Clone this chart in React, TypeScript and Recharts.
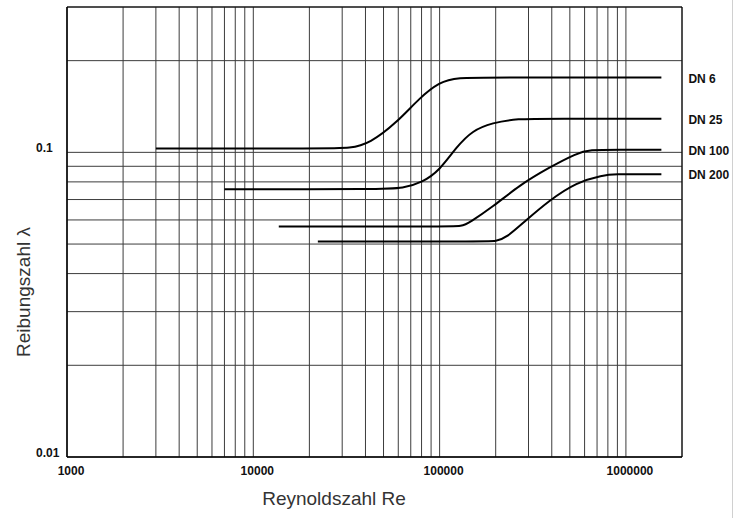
import { LineChart, Line, XAxis, YAxis, CartesianGrid, ReferenceArea } from 'recharts';

// Reynoldszahl / Reibungszahl
const dn6Re = [3000, 25000, 32900, 42200, 58700, 78100, 100000, 123000, 200000, 1550000];
const dn6Lambda = [0.103, 0.103, 0.103, 0.107, 0.125, 0.151, 0.17, 0.176, 0.176, 0.176];

const dn25Re = [7000, 50000, 63000, 81000, 100000, 123000, 150000, 192000, 259000, 400000, 1550000];
const dn25Lambda = [0.0757, 0.0757, 0.0762, 0.0797, 0.0873, 0.104, 0.118, 0.125, 0.129, 0.129, 0.129];

const dn100Re = [13700, 110000, 131000, 145000, 192000, 268000, 389000, 543000, 637000, 900000, 1550000];
const dn100Lambda = [0.0571, 0.0571, 0.0571, 0.0589, 0.0661, 0.078, 0.0893, 0.0992, 0.102, 0.102, 0.102];

const dn200Re = [22200, 170000, 202000, 229000, 279000, 389000, 543000, 748000, 889000, 1200000, 1550000];
const dn200Lambda = [0.051, 0.051, 0.051, 0.0526, 0.0585, 0.0697, 0.0797, 0.0842, 0.0848, 0.0848, 0.0848];

const seriesNames = ['DN 6', 'DN 25', 'DN 100', 'DN 200'];

const xTicks = [
  1000, 2000, 3000, 4000, 5000, 6000, 7000, 8000, 9000,
  10000, 20000, 30000, 40000, 50000, 60000, 70000, 80000, 90000,
  100000, 200000, 300000, 400000, 500000, 600000, 700000, 800000, 900000,
  1000000, 2000000,
];
const xLabels = [1000, 10000, 100000, 1000000];

const yTicks = [0.01, 0.02, 0.03, 0.04, 0.05, 0.06, 0.07, 0.08, 0.09, 0.1, 0.2, 0.3];
const yLabels = ['0.01', '0.1'];

const toRows = (re: number[], lambda: number[]) => re.map((r, i) => ({ re: r, lambda: lambda[i] }));

const series = [
  toRows(dn6Re, dn6Lambda),
  toRows(dn25Re, dn25Lambda),
  toRows(dn100Re, dn100Lambda),
  toRows(dn200Re, dn200Lambda),
];

const tickFont = '"Liberation Sans", Arial, sans-serif';

function XTick(props: any) {
  const { x, y, payload } = props;
  if (!xLabels.includes(payload.value)) return <g />;
  return (
    <text x={x + 4} y={y + 10} textAnchor="middle" fontFamily={tickFont} fontWeight="bold" fontSize={12} fill="#111">
      {String(payload.value)}
    </text>
  );
}

function YTick(props: any) {
  const { y, payload } = props;
  const label = String(payload.value);
  if (!yLabels.includes(label)) return <g />;
  return (
    <text x={36} y={y - 4} dominantBaseline="central" textAnchor="start" fontFamily={tickFont} fontWeight="bold" fontSize={12} fill="#111">
      {label}
    </text>
  );
}

export default function App() {
  return (
    <div style={{ position: 'absolute', left: 0, top: 0, width: 737, height: 518, background: '#fff', overflow: 'hidden' }}>
      <LineChart width={737} height={518} margin={{ top: 7, right: 55, bottom: 0, left: 0 }}>
        <CartesianGrid stroke="#3c3c3c" strokeWidth={1} />
        <XAxis
          type="number"
          dataKey="re"
          scale="log"
          domain={[1000, 2000000]}
          ticks={xTicks}
          interval={0}
          allowDataOverflow
          height={61}
          tickLine={false}
          axisLine={{ stroke: '#000' }}
          tick={<XTick />}
        />
        <YAxis
          type="number"
          scale="log"
          domain={[0.01, 0.3]}
          ticks={yTicks}
          interval={0}
          allowDataOverflow
          width={67}
          tickLine={false}
          axisLine={{ stroke: '#000' }}
          tick={<YTick />}
        />
        <ReferenceArea x1={1000} x2={2000000} y1={0.01} y2={0.3} fill="none" stroke="#000" strokeWidth={1} ifOverflow="visible" />
        {series.map((rows, si) => (
          <Line
            key={seriesNames[si]}
            data={rows}
            dataKey="lambda"
            type="basis"
            stroke="#000"
            strokeWidth={2}
            dot={false}
            isAnimationActive={false}
            label={(p: any) =>
              p.index === rows.length - 1 ? (
                <text
                  key={`lbl-${si}`}
                  x={p.x + 27}
                  y={p.y + 1}
                  dominantBaseline="central"
                  fontFamily={tickFont}
                  fontWeight="bold"
                  fontSize={12}
                  fill="#111"
                >
                  {seriesNames[si]}
                </text>
              ) : (
                <g key={`lbl-${si}-${p.index}`} />
              )
            }
          />
        ))}
      </LineChart>
      <div
        style={{
          position: 'absolute',
          left: 24,
          top: 292,
          transform: 'translate(-50%, -50%) rotate(-90deg)',
          fontFamily: tickFont,
          fontSize: 19,
          color: '#333',
          whiteSpace: 'nowrap',
        }}
      >
        Reibungszahl λ
      </div>
      <div
        style={{
          position: 'absolute',
          left: 334,
          top: 499,
          transform: 'translate(-50%, -50%)',
          fontFamily: tickFont,
          fontSize: 19,
          color: '#333',
          whiteSpace: 'nowrap',
        }}
      >
        Reynoldszahl Re
      </div>
      <div style={{ position: 'absolute', left: 732, top: 0, width: 1, height: 518, background: '#d0d0d0' }} />
    </div>
  );
}
